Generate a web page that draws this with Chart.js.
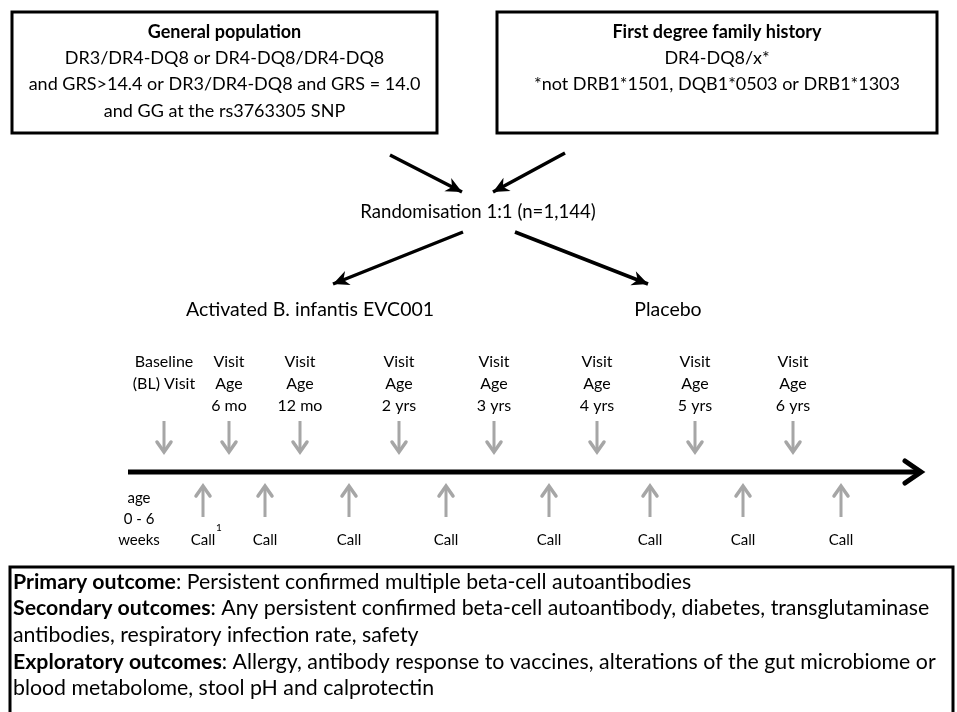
<!DOCTYPE html>
<html>
<head>
<meta charset="utf-8">
<script src="https://cdn.jsdelivr.net/npm/chart.js@4"></script>
<style>
  html, body { margin: 0; padding: 0; background: #fff; }
  #wrap { width: 957px; height: 712px; }
</style>
</head>
<body>
<div id="wrap"><canvas id="flow" width="957" height="712"></canvas></div>
<script>
// ---- diagram content ----
const boxTitles = ["General population", "First degree family history"];
const boxLines = [
  ["DR3/DR4-DQ8 or DR4-DQ8/DR4-DQ8", "and GRS>14.4 or DR3/DR4-DQ8 and GRS = 14.0", "and GG at the rs3763305 SNP"],
  ["DR4-DQ8/x*", "*not DRB1*1501, DQB1*0503 or DRB1*1303"]
];
const randomLabel = "Randomisation 1:1 (n=1,144)";
const armLabels = ["Activated B. infantis EVC001", "Placebo"];

// timeline (x = position along the time axis)
const visitLabels = [
  ["Baseline", "(BL) Visit"],
  ["Visit", "Age", "6 mo"],
  ["Visit", "Age", "12 mo"],
  ["Visit", "Age", "2 yrs"],
  ["Visit", "Age", "3 yrs"],
  ["Visit", "Age", "4 yrs"],
  ["Visit", "Age", "5 yrs"],
  ["Visit", "Age", "6 yrs"]
];
const visitAt = [164, 229, 300, 399, 494, 597, 695, 793];
const callLabels = ["Call", "Call", "Call", "Call", "Call", "Call", "Call", "Call"];
const callAt = [203, 265, 349, 446, 549, 650, 743, 841];
const ageLabel = ["age", "0 - 6", "weeks"];

const outcomeHeads = ["Primary outcome", "Secondary outcomes", "", "Exploratory outcomes", ""];
const outcomeTexts = [
  ": Persistent confirmed multiple beta-cell autoantibodies",
  ": Any persistent confirmed beta-cell autoantibody, diabetes, transglutaminase",
  "antibodies, respiratory infection rate, safety",
  ": Allergy, antibody response to vaccines, alterations of the gut microbiome or",
  "blood metabolome, stool pH and calprotectin"
];

// ---- helpers ----
const FONT = "Lato, 'Open Sans', sans-serif";
const GREY = "#a6a6a6";

function seg(points) {
  // list of [x1,y1,x2,y2] -> line data with gaps
  const out = [];
  points.forEach(p => {
    out.push({ x: p[0], y: p[1] }, { x: p[2], y: p[3] }, { x: p[2], y: null });
  });
  return out;
}

// arrow heads on the end of every segment
const arrowHeads = {
  id: "arrowHeads",
  afterDatasetsDraw(chart) {
    const ctx = chart.ctx;
    chart.data.datasets.forEach((ds, i) => {
      if (!ds.head) return;
      const pts = chart.getDatasetMeta(i).data;
      for (let k = 0; k + 1 < pts.length; k += 3) {
        const a = pts[k], b = pts[k + 1];
        const ang = Math.atan2(b.y - a.y, b.x - a.x);
        const L = ds.head.len, W = ds.head.wid;
        ctx.save();
        ctx.translate(b.x, b.y);
        ctx.rotate(ang);
        ctx.beginPath();
        ctx.moveTo(-L, -W);
        ctx.lineTo(0, 0);
        ctx.lineTo(-L, W);
        if (ds.head.fill) {
          ctx.lineTo(-L * 0.7, 0);
          ctx.closePath();
          ctx.fillStyle = ds.borderColor;
          ctx.fill();
        } else {
          ctx.strokeStyle = ds.borderColor;
          ctx.lineWidth = ds.head.lw;
          ctx.lineCap = "round";
          ctx.lineJoin = "miter";
          ctx.stroke();
        }
        ctx.restore();
      }
    });
  }
};

// boxes and all the text
const textLayer = {
  id: "textLayer",
  afterDraw(chart) {
    const ctx = chart.ctx;
    const X = v => chart.scales.x.getPixelForValue(v);
    const Y = v => chart.scales.y.getPixelForValue(v);
    ctx.save();
    ctx.fillStyle = "#000";
    ctx.textBaseline = "middle";

    // eligibility boxes
    const boxes = [[12, 12, 437, 133], [497, 12, 937, 133]];
    boxes.forEach((b, i) => {
      ctx.lineWidth = 3;
      ctx.strokeStyle = "#000";
      ctx.strokeRect(X(b[0]), Y(b[1]), X(b[2]) - X(b[0]), Y(b[3]) - Y(b[1]));
      const cx = X((b[0] + b[2]) / 2);
      ctx.textAlign = "center";
      ctx.font = "bold 18px " + FONT;
      ctx.fillText(boxTitles[i], cx, Y(32));
      ctx.font = "18px " + FONT;
      boxLines[i].forEach((t, j) => ctx.fillText(t, cx, Y(58 + j * 26.5)));
    });

    ctx.font = "18.6px " + FONT;
    ctx.fillText(randomLabel, X(478), Y(212));
    ctx.font = "19.5px " + FONT;
    ctx.fillText(armLabels[0], X(310), Y(310));
    ctx.fillText(armLabels[1], X(668), Y(310));

    // visits
    ctx.font = "16px " + FONT;
    visitLabels.forEach((lines, i) => {
      lines.forEach((t, j) => ctx.fillText(t, X(visitAt[i]), Y(362 + j * 22)));
    });

    // calls
    ctx.font = "15px " + FONT;
    ageLabel.forEach((t, j) => ctx.fillText(t, X(139), Y(498 + j * 21)));
    callLabels.forEach((t, i) => ctx.fillText(t, X(callAt[i]), Y(540)));
    ctx.font = "10px " + FONT;
    ctx.fillText("1", X(219), Y(528));

    // outcomes box
    ctx.lineWidth = 3;
    ctx.strokeRect(X(10), Y(567), X(953) - X(10), Y(725) - Y(567));
    ctx.textAlign = "left";
    outcomeTexts.forEach((t, i) => {
      let x = X(13);
      const y = Y(582 + i * 26.6);
      if (outcomeHeads[i]) {
        ctx.font = "bold 21.3px " + FONT;
        ctx.fillText(outcomeHeads[i], x, y);
        x += ctx.measureText(outcomeHeads[i]).width;
      }
      ctx.font = "21.3px " + FONT;
      ctx.fillText(t, x, y);
    });
    ctx.restore();
  }
};

new Chart(document.getElementById("flow"), {
  type: "scatter",
  data: {
    datasets: [
      {
        label: "timeline",
        data: seg([[128, 472, 921, 472]]),
        showLine: true, borderColor: "#000", borderWidth: 5, pointRadius: 0,
        head: { len: 16, wid: 11, lw: 5 }
      },
      {
        label: "visits",
        data: seg(visitAt.map(x => [x, 421, x, 452])),
        showLine: true, borderColor: GREY, borderWidth: 3, pointRadius: 0,
        head: { len: 10, wid: 7, lw: 3.5 }
      },
      {
        label: "calls",
        data: seg(callAt.map(x => [x, 517, x, 486])),
        showLine: true, borderColor: GREY, borderWidth: 3, pointRadius: 0,
        head: { len: 10, wid: 7, lw: 3.5 }
      },
      {
        label: "flow",
        data: seg([[390, 155, 462, 192], [565, 153, 493, 192], [463, 232, 333, 284], [515, 232, 648, 284]]),
        showLine: true, borderColor: "#000", borderWidth: 3.5, pointRadius: 0,
        head: { len: 16, wid: 7.5, fill: true }
      }
    ]
  },
  options: {
    responsive: false,
    animation: false,
    spanGaps: false,
    layout: { padding: 0 },
    plugins: { legend: { display: false }, tooltip: { enabled: false } },
    scales: {
      x: { type: "linear", min: 0, max: 957, display: false },
      y: { type: "linear", min: 0, max: 712, reverse: true, display: false }
    }
  },
  plugins: [arrowHeads, textLayer]
});
</script>
</body>
</html>
